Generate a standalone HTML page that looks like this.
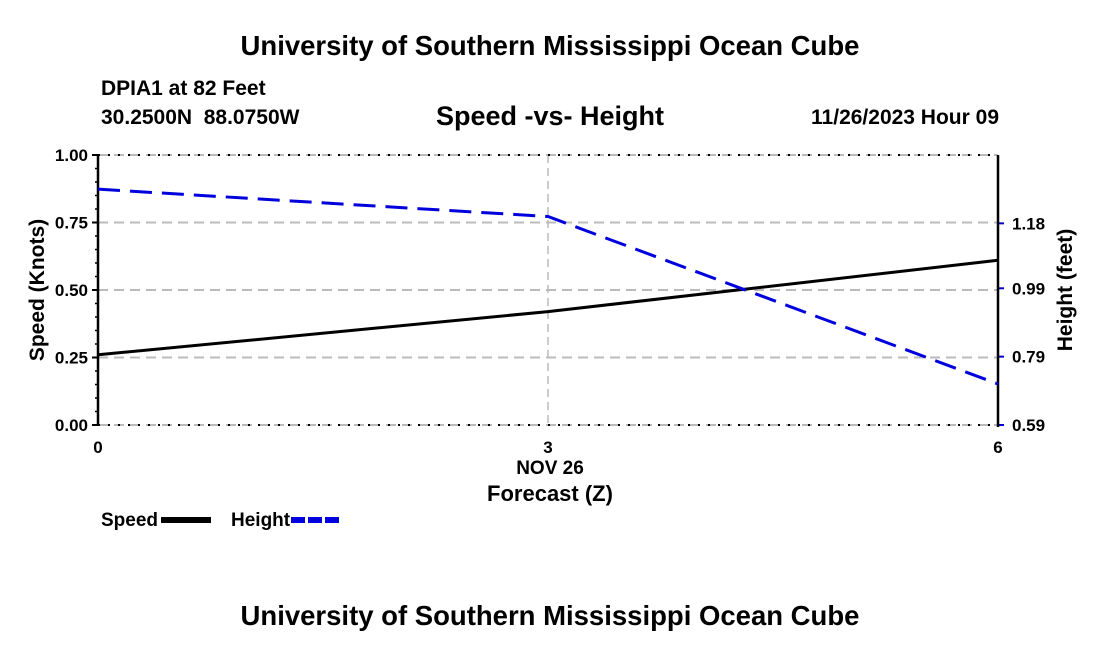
<!DOCTYPE html>
<html><head><meta charset="utf-8"><style>
body{margin:0;background:#fff;}
svg{display:block;font-family:"Liberation Sans",Arial,sans-serif;font-weight:bold;}
</style></head><body>
<svg id="c" width="1100" height="650">
<text x="550" y="55" font-size="27.5" text-anchor="middle">University of Southern Mississippi Ocean Cube</text>
<text x="101" y="95" font-size="21">DPIA1 at 82 Feet</text>
<text x="101" y="124" font-size="21" xml:space="preserve">30.2500N  88.0750W</text>
<text x="550" y="125" font-size="27" text-anchor="middle">Speed -vs- Height</text>
<text x="999" y="124" font-size="21" text-anchor="end">11/26/2023 Hour 09</text>
<g id="grid"></g>
<g id="axes"></g>
<g id="series"></g>
<text transform="translate(44,290) rotate(-90)" font-size="21" text-anchor="middle">Speed (Knots)</text>
<text transform="translate(1072,290) rotate(-90)" font-size="21" text-anchor="middle">Height (feet)</text>
<text x="550" y="474" font-size="19" text-anchor="middle">NOV 26</text>
<text x="550" y="501" font-size="22" text-anchor="middle">Forecast (Z)</text>
<g>
<text x="101" y="526" font-size="19">Speed</text>
<line x1="161" y1="520" x2="211" y2="520" stroke="#000" stroke-width="6"/>
<text x="231" y="526" font-size="19">Height</text>
<line x1="291" y1="520" x2="342" y2="520" stroke="#0000dd" stroke-width="6" stroke-dasharray="14,3"/>
</g>
<text x="550" y="625" font-size="27.5" text-anchor="middle">University of Southern Mississippi Ocean Cube</text>
</svg>
<script>
const hours=[0,3,6];
const speed=[0.26,0.42,0.61];
const height=[1.28,1.20,0.71];
const yTicks=[0,0.25,0.5,0.75,1.0];
const y2Ticks=[0.59,0.79,0.99,1.18];
const xTicks=[0,3,6];
const X0=98,X1=998,Y0=425,Y1=155;
const H_MIN=0.59,H_MAX=1.38;
const xs=h=>X0+(h-0)/(6-0)*(X1-X0);
const ys=v=>Y0-v*(Y0-Y1);
const y2s=v=>Y0-(v-H_MIN)/(H_MAX-H_MIN)*(Y0-Y1);
const NS="http://www.w3.org/2000/svg";
function mk(parent,tag,attrs){const e=document.createElementNS(NS,tag);for(const k in attrs)e.setAttribute(k,attrs[k]);parent.appendChild(e);return e;}
const grid=document.getElementById('grid'),axes=document.getElementById('axes'),ser=document.getElementById('series');
yTicks.forEach(v=>{
  const l=mk(grid,'line',{x1:X0,x2:X1,y1:ys(v),y2:ys(v),stroke:'#bbb','stroke-width':2,'stroke-dasharray':'10,6'});
  
  
  const t=mk(axes,'line',{x1:X0-6,x2:X0,y1:ys(v),y2:ys(v),stroke:'#000','stroke-width':2});
  
  
  const tx=mk(axes,'text',{x:X0-10,y:ys(v)+6,'font-size':17,'text-anchor':'end'});tx.textContent=v.toFixed(2);
  
  
});
for(let v=0.05;v<1;v+=0.05){if(Math.abs(v*4-Math.round(v*4))<1e-6)continue;
  const t=mk(axes,'line',{x1:X0-3,x2:X0,y1:ys(v),y2:ys(v),stroke:'#000','stroke-width':1.5});
  
  }
[0,1].forEach(v=>{const l=mk(axes,'line',{x1:X0,x2:X1,y1:ys(v),y2:ys(v),stroke:'#000','stroke-width':2,'stroke-dasharray':'2,8'});
  
  });
y2Ticks.forEach(v=>{
  const t=mk(axes,'line',{x1:X1,x2:X1+6,y1:y2s(v),y2:y2s(v),stroke:'#0000cc','stroke-width':2});
  
  
  const tx=mk(axes,'text',{x:X1+14,y:y2s(v)+6,'font-size':17});tx.textContent=v.toFixed(2);
  
  
});
xTicks.forEach(h=>{
  if(h>0&&h<6){const g=mk(grid,'line',{x1:xs(h),x2:xs(h),y1:Y1,y2:Y0,stroke:'#bbb','stroke-width':1.5,'stroke-dasharray':'8,5'});
    
    }
  const tx=mk(axes,'text',{x:xs(h),y:Y0+28,'font-size':17,'text-anchor':'middle'});tx.textContent=h;
  
  
});
const la=mk(axes,'line',{x1:X0,x2:X0,y1:Y1,y2:Y0,stroke:'#000','stroke-width':2.5});


const ra=mk(axes,'line',{x1:X1,x2:X1,y1:Y1,y2:Y0+2,stroke:'#000','stroke-width':2.5});


const sp=mk(ser,'polyline',{points:hours.map((h,i)=>xs(h)+','+ys(speed[i])).join(' '),fill:'none',stroke:'#000','stroke-width':3});


const hp=mk(ser,'polyline',{points:hours.map((h,i)=>xs(h)+','+y2s(height[i])).join(' '),fill:'none',stroke:'#0000dd','stroke-width':3,'stroke-dasharray':'22,10'});


</script>
</body></html>
